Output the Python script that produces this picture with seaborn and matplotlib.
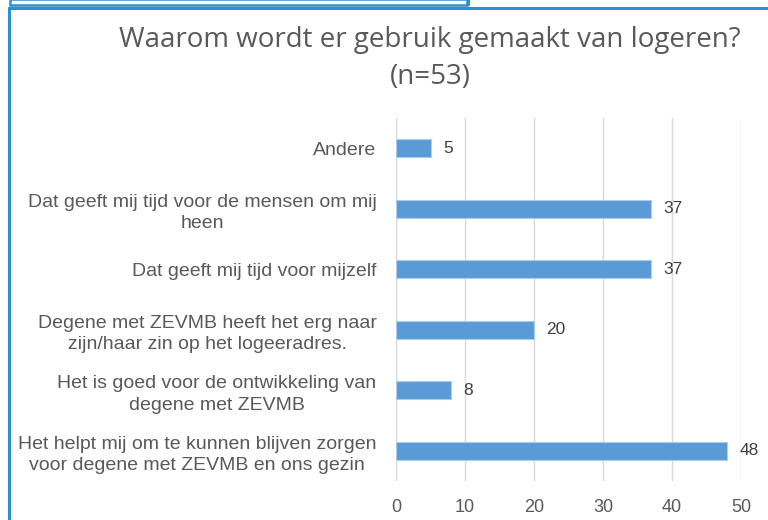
import matplotlib
matplotlib.use('Agg')
import matplotlib.pyplot as plt
import seaborn as sns
from matplotlib.lines import Line2D
from matplotlib.patches import Rectangle

categories = [
    "Andere",
    "Dat geeft mij tijd voor de mensen om mij\nheen",
    "Dat geeft mij tijd voor mijzelf",
    "Degene met ZEVMB heeft het erg naar\nzijn/haar zin op het logeeradres.",
    "Het is goed voor de ontwikkeling van\ndegene met ZEVMB",
    "Het helpt mij om te kunnen blijven zorgen\nvoor degene met ZEVMB en ons gezin",
]
counts = [5, 37, 37, 20, 8, 48]
x_ticks = [0, 10, 20, 30, 40, 50]
title = "Waarom wordt er gebruik gemaakt van logeren?\n(n=53)"

sns.set_theme(style="white")
plt.rcParams['font.family'] = ['Liberation Sans', 'DejaVu Sans']

fig = plt.figure(figsize=(7.68, 5.2), dpi=100)
ax = fig.add_axes([396 / 768, 1 - 481 / 520, 345 / 768, 363 / 520])

sns.barplot(x=counts, y=categories, orient='h', color='#5B9BD5', saturation=1,
            width=0.3, edgecolor='#A9CCEC', linewidth=0.8, ax=ax)

ax.set_xlim(0, 50)
ax.set_xticks(x_ticks)
ax.grid(axis='x', color='#D9D9D9', linewidth=1)
ax.set_axisbelow(True)
for s in ax.spines.values():
    s.set_visible(False)
ax.tick_params(axis='both', length=0, colors='#595959')
ax.tick_params(axis='y', pad=14, labelsize=14)
ax.tick_params(axis='x', pad=13, labelsize=13)
for t in ax.get_yticklabels():
    t.set_multialignment('center')
    t.set_linespacing(1.35)
ax.set_xlabel('')
ax.set_ylabel('')

for i, v in enumerate(counts):
    ax.annotate(str(v), (v, i), xytext=(9, 0), textcoords='offset points',
                va='center', ha='left', fontsize=12.5, color='#404040')

fig.text(0.56, 0.887, title, ha='center', va='center', fontsize=20,
         color='#595959', family=['Open Sans', 'DejaVu Sans'], linespacing=1.45)

# frame lines of the surrounding sheet
blue = '#2B8FD4'
fig.add_artist(Line2D([9 / 768, 1], [1 - 8 / 520, 1 - 8 / 520], color=blue, lw=2.2))
fig.add_artist(Line2D([9 / 768, 9 / 768], [0, 1 - 8 / 520], color=blue, lw=2.2))
fig.add_artist(Rectangle((10 / 768, 1 - 5 / 520), 457 / 768, 6 / 520, fill=False,
                         edgecolor=blue, lw=1.8, transform=fig.transFigure))
fig.add_artist(Line2D([469 / 768, 469 / 768], [1 - 5 / 520, 1], color=blue, lw=1.5))

fig.savefig('out.png', dpi=100)
